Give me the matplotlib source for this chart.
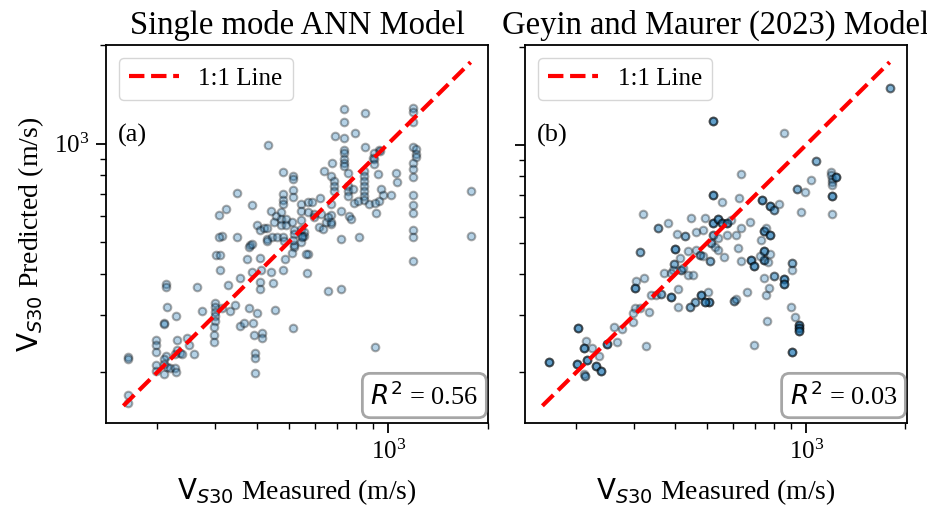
import numpy as np
import matplotlib
matplotlib.use('Agg')
import matplotlib.pyplot as plt
from matplotlib.ticker import NullFormatter

plt.rcParams['font.family'] = 'serif'
plt.rcParams['font.serif'] = ['Liberation Serif', 'DejaVu Serif']
plt.rcParams['mathtext.fontset'] = 'dejavusans'
plt.rcParams['axes.linewidth'] = 1.3

# Single mode ANN model (m/s)
ann_meas = [737, 851, 1188, 1188, 1188, 737, 794, 690, 737, 737,
            737, 853, 1188, 1216, 1216, 1216, 434, 937, 941, 905,
            898, 737, 674, 737, 737, 1188, 1188, 479, 640, 515,
            515, 671, 754, 930, 1058, 1063, 847, 847, 847, 847,
            847, 847, 847, 905, 905, 1188, 687, 687, 687, 754,
            754, 754, 781, 952, 963, 1021, 1188, 1188, 1188, 1188,
            1188, 1188, 1775, 1775, 349, 482, 482, 482, 516, 516,
            544, 570, 590, 622, 597, 625, 671, 671, 671, 720,
            763, 772, 786, 809, 937, 877, 909, 920, 386, 307,
            323, 441, 457, 451, 473, 473, 473, 490, 490, 513,
            519, 544, 544, 544, 557, 557, 570, 548, 597, 618,
            633, 648, 671, 655, 400, 409, 421, 431, 431, 446,
            462, 479, 485, 519, 519, 513, 519, 544, 550, 515,
            314, 307, 349, 383, 379, 388, 431, 720, 814, 302,
            309, 375, 409, 487, 570, 563, 309, 386, 411, 441,
            479, 567, 356, 328, 408, 408, 449, 212, 213, 264,
            214, 228, 209, 209, 273, 300, 300, 300, 300, 300,
            314, 333, 345, 379, 401, 455, 356, 366, 391, 393,
            416, 416, 297, 297, 297, 515, 199, 199, 199, 213,
            209, 209, 198, 199, 209, 214, 219, 227, 228, 230,
            230, 235, 238, 227, 246, 249, 258, 395, 395, 395,
            909, 655, 720, 163, 163, 163, 163]
ann_pred = [1278, 1245, 1286, 1251, 1164, 1164, 1080, 1058, 1038, 954,
            939, 977, 979, 961, 928, 911, 988, 959, 950, 939,
            907, 896, 875, 875, 855, 871, 835, 820, 826, 798,
            779, 798, 816, 807, 812, 761, 826, 798, 770, 744,
            718, 693, 674, 896, 865, 791, 770, 744, 718, 744,
            718, 693, 726, 726, 696, 696, 696, 650, 612, 543,
            520, 437, 715, 524, 705, 701, 674, 654, 721, 685,
            654, 662, 662, 681, 610, 610, 654, 607, 568, 621,
            600, 589, 659, 669, 669, 654, 659, 614, 650, 607,
            630, 621, 600, 578, 617, 589, 565, 589, 565, 575,
            543, 621, 585, 549, 538, 524, 617, 524, 596, 555,
            549, 575, 575, 596, 565, 543, 552, 552, 512, 518,
            518, 518, 504, 530, 483, 463, 489, 500, 518, 506,
            524, 520, 520, 489, 483, 494, 504, 512, 518, 456,
            456, 445, 447, 445, 461, 461, 412, 405, 412, 405,
            412, 402, 389, 369, 378, 359, 375, 373, 365, 365,
            317, 297, 284, 281, 308, 325, 317, 306, 297, 287,
            314, 308, 321, 314, 304, 310, 277, 284, 284, 260,
            263, 254, 276, 261, 247, 274, 251, 243, 231, 225,
            219, 212, 211, 202, 197, 208, 206, 206, 200, 251,
            234, 229, 227, 227, 254, 243, 227, 229, 221, 199,
            239, 355, 359, 223, 219, 170, 161]

# Geyin and Maurer (2023) model (m/s), n = overlapping sites
gm_meas = [1792, 520, 859, 1073, 632, 1186, 1186, 1197, 1197, 1197,
           1233, 1197, 1197, 1031, 939, 988, 520, 555, 624, 733,
           774, 796, 826, 961, 319, 380, 354, 447, 491, 520,
           539, 555, 575, 591, 485, 463, 405, 429, 520, 539,
           575, 612, 634, 673, 730, 742, 774, 755, 514, 527,
           539, 562, 620, 400, 312, 437, 463, 477, 485, 511,
           415, 396, 393, 417, 422, 369, 389, 437, 452, 634,
           681, 696, 744, 744, 774, 726, 764, 907, 907, 801,
           744, 859, 859, 303, 304, 321, 407, 337, 350, 361,
           389, 480, 503, 508, 491, 458, 445, 407, 603, 610,
           662, 755, 770, 896, 922, 954, 954, 954, 761, 696,
           907, 302, 297, 312, 332, 297, 261, 276, 266, 326,
           249, 202, 215, 211, 224, 234, 216, 201, 230, 238,
           212, 213, 165]
gm_pred = [1494, 1183, 1083, 894, 811, 824, 805, 786, 768, 750,
           796, 697, 612, 777, 733, 716, 703, 668, 687, 679,
           648, 630, 657, 620, 612, 574, 557, 594, 594, 574,
           590, 577, 574, 588, 548, 541, 531, 525, 529, 517,
           529, 529, 554, 578, 511, 545, 529, 554, 499, 484,
           474, 452, 482, 480, 469, 471, 474, 458, 454, 439,
           449, 429, 412, 414, 419, 405, 405, 398, 398, 439,
           444, 424, 473, 444, 462, 454, 437, 432, 414, 395,
           391, 386, 373, 364, 382, 389, 362, 346, 346, 348,
           342, 346, 354, 328, 328, 328, 317, 317, 332, 336,
           354, 346, 364, 317, 297, 279, 274, 269, 288, 243,
           231, 315, 304, 315, 306, 285, 275, 272, 248, 241,
           245, 274, 249, 238, 237, 224, 218, 213, 209, 202,
           198, 195, 215]
gm_n = [2, 3, 1, 2, 1, 1, 1, 1, 1, 1,
        3, 3, 1, 1, 2, 1, 3, 1, 1, 3,
        3, 2, 1, 1, 1, 1, 2, 1, 1, 3,
        3, 3, 3, 1, 1, 1, 1, 2, 2, 1,
        1, 1, 1, 1, 1, 3, 3, 1, 2, 1,
        1, 1, 1, 3, 2, 1, 1, 2, 1, 2,
        1, 2, 1, 2, 1, 1, 1, 1, 1, 1,
        3, 3, 3, 3, 1, 1, 1, 2, 1, 2,
        1, 3, 3, 3, 1, 1, 1, 1, 1, 2,
        3, 3, 1, 3, 3, 2, 2, 1, 2, 1,
        1, 1, 1, 1, 1, 3, 3, 3, 1, 1,
        3, 1, 1, 1, 1, 1, 1, 1, 1, 1,
        3, 3, 1, 3, 1, 1, 3, 3, 3, 3,
        1, 2, 3]

titles = ['Single mode ANN Model', 'Geyin and Maurer (2023) Model']
tags = ['(a)', '(b)']
r2 = [0.56, 0.03]
line_lo = 158

gm_x = np.repeat(gm_meas, gm_n)
gm_y = np.repeat(gm_pred, gm_n)
sets = [(np.array(ann_meas), np.array(ann_pred)), (gm_x, gm_y)]

fig, axs = plt.subplots(1, 2, figsize=(9.28, 5.12), dpi=100)
fig.subplots_adjust(left=106/928, right=907/928, bottom=1-423/512, top=1-45/512, wspace=0.097)

for i, ax in enumerate(axs):
    x, y = sets[i]
    ax.scatter(x, y, s=30, c='#1f77b4', edgecolors='k', linewidths=1.5, alpha=0.33)
    hi = max(x.max(), y.max())
    ax.plot([line_lo, hi], [line_lo, hi], '--', color='red', lw=3, label='1:1 Line')
    ax.set_xscale('log')
    ax.set_yscale('log')
    ax.xaxis.set_minor_formatter(NullFormatter())
    ax.yaxis.set_minor_formatter(NullFormatter())
    ax.tick_params(which='major', labelsize=18, length=7, width=1.3, pad=5)
    ax.tick_params(which='minor', length=4, width=1)
    ax.set_title(titles[i], fontsize=23.5, pad=8)
    ax.set_xlabel(r'$\mathrm{V}_{S30}$ Measured (m/s)', fontsize=20, labelpad=9)
    ax.legend(loc='upper left', fontsize=18)
    ax.text(0.03, 0.79, tags[i], transform=ax.transAxes, fontsize=19, va='top')
    ax.text(0.975, 0.035, r'$R^2$ = %.2f' % r2[i], transform=ax.transAxes, ha='right', va='bottom',
            fontsize=19, bbox=dict(boxstyle='round', fc='white', ec='gray', alpha=0.7, lw=2))

axs[0].set_ylabel(r'$\mathrm{V}_{S30}$ Predicted (m/s)', fontsize=20, labelpad=6)
axs[1].tick_params(which='both', labelleft=False)

fig.savefig('out.png', dpi=100)
